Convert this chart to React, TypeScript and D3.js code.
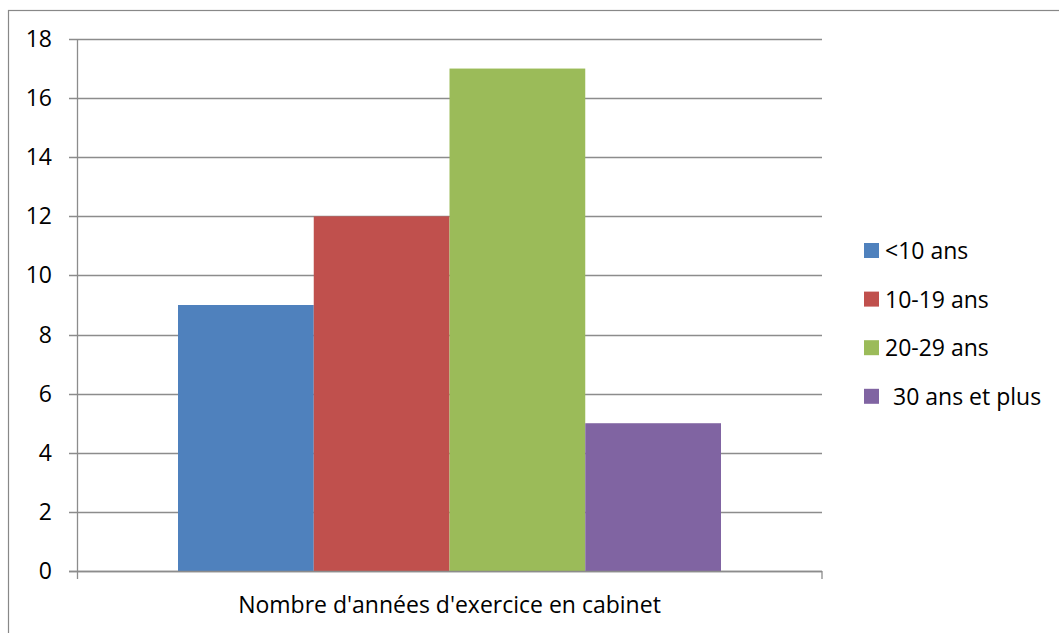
import React from "react";
import * as d3 from "d3";

const categories = ["<10 ans", "10-19 ans", "20-29 ans", "30 ans et plus"];
const values = [9, 12, 17, 5];
const colors = ["#4F81BD", "#C0504D", "#9BBB59", "#8064A2"];
const yTicks = [0, 2, 4, 6, 8, 10, 12, 14, 16, 18];
const xLabel = "Nombre d'années d'exercice en cabinet";

export default function App() {
  const W = 1059, H = 633;
  const left = 77.5, right = 822, top = 39, bottom = 571;
  const y = d3.scaleLinear().domain([0, 18]).range([bottom, top]);
  const x = d3.scaleBand().domain(categories).range([178, 721]).padding(0);
  const font = "'Open Sans', 'Liberation Sans', 'DejaVu Sans', sans-serif";
  const fs = 23;
  return (
    <svg width={W} height={H} style={{ position: "absolute", left: 0, top: 0, fontFamily: font }}>
      <rect x={0} y={0} width={W} height={H} fill="#fff" />
      <rect x={8.5} y={10.5} width={W + 10} height={H + 10} fill="none" stroke="#888" strokeWidth={1.2} />
      {yTicks.map((t) => (
        <g key={t}>
          <line x1={69} x2={right} y1={Math.round(y(t)) + 0.5} y2={Math.round(y(t)) + 0.5} stroke="#8c8c8c" strokeWidth={1.3} />
          <text x={52} y={y(t) + 8} textAnchor="end" fontSize={fs} fill="#000">{t}</text>
        </g>
      ))}
      {categories.map((c, i) => (
        <rect key={c} x={x(c)} y={y(values[i])} width={x.bandwidth()} height={bottom - y(values[i])} fill={colors[i]} />
      ))}
      <line x1={left} x2={left} y1={top} y2={579} stroke="#8c8c8c" strokeWidth={1.3} />
      <line x1={69} x2={right} y1={bottom + 0.5} y2={bottom + 0.5} stroke="#8c8c8c" strokeWidth={1.3} />
      <line x1={right} x2={right} y1={bottom} y2={579} stroke="#8c8c8c" strokeWidth={1.3} />
      <text x={449.5} y={613} textAnchor="middle" fontSize={fs} fill="#000">{xLabel}</text>
      {categories.map((c, i) => (
        <g key={c} transform={`translate(864, ${243 + i * 48.6})`}>
          <rect x={0} y={0} width={15} height={15} fill={colors[i]} />
          <text x={i === 3 ? 29 : 21} y={16} fontSize={fs} fill="#000">{c}</text>
        </g>
      ))}
    </svg>
  );
}
